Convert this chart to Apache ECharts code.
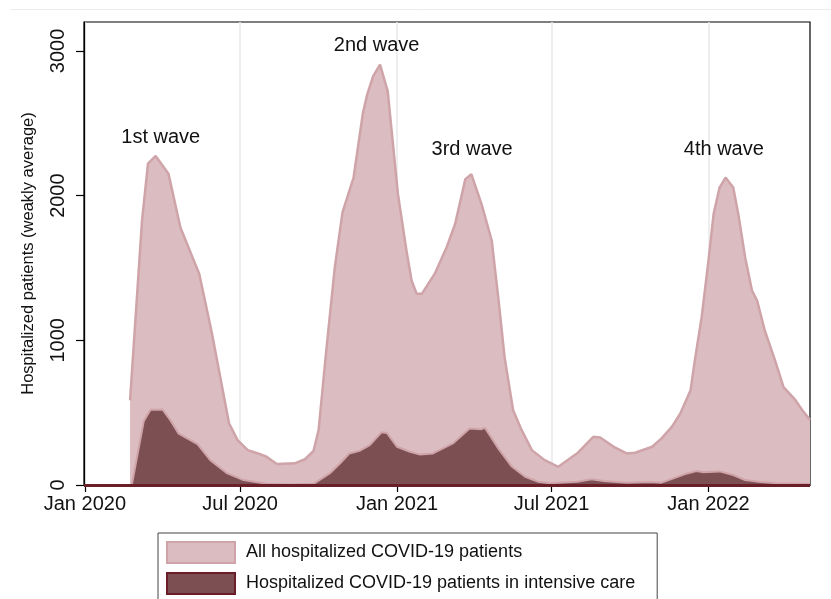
<!DOCTYPE html>
<html>
<head>
<meta charset="utf-8">
<script src="https://cdn.jsdelivr.net/npm/echarts@6/dist/echarts.min.js"></script>
<style>
  html, body { margin: 0; padding: 0; background: #fff; }
  #chart { width: 831px; height: 599px; }
</style>
</head>
<body>
<div id="chart"></div>
<script>
// ---- Data ----
const allDates = [
  '2020-02-23','2020-03-08','2020-03-15','2020-03-24','2020-04-08','2020-04-22','2020-05-14','2020-05-29',
  '2020-06-18','2020-06-28','2020-07-10','2020-07-22','2020-08-01','2020-08-13','2020-09-03','2020-09-15',
  '2020-09-25','2020-10-01','2020-10-10','2020-10-20','2020-10-29','2020-11-11','2020-11-22','2020-11-27',
  '2020-12-04','2020-12-12','2020-12-21','2021-01-02','2021-01-12','2021-01-18','2021-01-24','2021-01-30',
  '2021-02-14','2021-02-28','2021-03-10','2021-03-22','2021-03-29','2021-04-10','2021-04-22','2021-04-30',
  '2021-05-07','2021-05-17','2021-05-27','2021-06-08','2021-06-23','2021-07-09','2021-08-01','2021-08-19',
  '2021-08-27','2021-09-12','2021-09-27','2021-10-07','2021-10-27','2021-11-07','2021-11-19','2021-11-29',
  '2021-12-11','2021-12-16','2021-12-24','2022-01-01','2022-01-07','2022-01-14','2022-01-21','2022-01-30',
  '2022-02-05','2022-02-13','2022-02-21','2022-02-27','2022-03-08','2022-03-20','2022-03-30','2022-04-13',
  '2022-04-21','2022-04-30'
];
const allValues = [
  586, 1826, 2221, 2274, 2152, 1780, 1461, 1047,
  427, 310, 241, 218, 195, 145, 150, 178,
  235, 380, 930, 1505, 1884, 2125, 2573, 2700,
  2826, 2906, 2722, 2010, 1620, 1413, 1321, 1321,
  1459, 1642, 1804, 2114, 2148, 1941, 1688, 1275,
  884, 517, 379, 241, 172, 126, 223, 333,
  328, 264, 218, 223, 264, 322, 402, 494,
  655, 861, 1160, 1551, 1872, 2056, 2125, 2056,
  1872, 1573, 1344, 1275, 1068, 861, 677, 586,
  517, 450
];

const icuDates = [
  '2020-02-25','2020-03-10','2020-03-18','2020-04-01','2020-04-10','2020-04-20','2020-05-12','2020-05-27',
  '2020-06-16','2020-07-05','2020-08-01','2020-08-28','2020-09-25','2020-10-14','2020-10-26','2020-11-06',
  '2020-11-18','2020-11-30','2020-12-14','2020-12-20','2021-01-01','2021-01-16','2021-01-28','2021-02-12',
  '2021-03-08','2021-03-27','2021-04-10','2021-04-14','2021-04-20','2021-04-30','2021-05-15','2021-05-31',
  '2021-06-15','2021-06-29','2021-07-31','2021-08-17','2021-08-31','2021-09-27','2021-10-25','2021-11-07',
  '2021-11-21','2021-12-07','2021-12-18','2021-12-26','2022-01-14','2022-01-30','2022-02-13','2022-03-03',
  '2022-03-22','2022-04-30'
];
const icuValues = [
  0, 440, 520, 522, 450, 355, 282, 172,
  80, 34, 8, 3, 8, 80, 149, 218,
  236, 276, 365, 360, 264, 230, 210, 218,
  290, 391, 386, 395, 340, 250, 130, 57,
  23, 12, 23, 39, 28, 16, 21, 16,
  46, 80, 96, 88, 94, 69, 34, 20,
  12, 7
];

const tickDates  = ['2020-01-01','2020-07-01','2021-01-01','2021-07-01','2022-01-01'];
const tickLabels = ['Jan 2020','Jul 2020','Jan 2021','Jul 2021','Jan 2022'];
const yTicks = [0, 1000, 2000, 3000];

const waveLabels = ['1st wave','2nd wave','3rd wave','4th wave'];
const waveDates  = ['2020-03-30','2020-12-08','2021-03-30','2022-01-19'];
const waveValues = [2405, 3039, 2316, 2316];

const seriesNames = ['All hospitalized COVID-19 patients','Hospitalized COVID-19 patients in intensive care'];

// ---- Build chart ----
const FONT = '"Liberation Sans", Arial, Helvetica, sans-serif';
const ts = d => Date.parse(d + 'T00:00:00Z');
const tickTs = tickDates.map(ts);

const PINK_FILL = '#dbbcc0';
const PINK_LINE = '#cfa4a9';
const DARK_FILL = '#7c4f52';
const DARK_LINE = '#6a1f28';

const chart = echarts.init(document.getElementById('chart'), null, { renderer: 'canvas' });

const option = {
  animation: false,
  backgroundColor: '#fff',
  textStyle: { fontFamily: FONT },
  graphic: [{
    type: 'line', silent: true,
    shape: { x1: 10, y1: 9.5, x2: 831, y2: 9.5 },
    style: { stroke: '#ececec', lineWidth: 1 }
  }],
  grid: {
    left: 84, right: 21, top: 22, bottom: 114,
    show: true, borderColor: '#000', borderWidth: 1.2, backgroundColor: '#fff'
  },
  xAxis: {
    type: 'value',
    min: ts('2019-12-31'),
    max: ts('2022-04-30'),
    axisLine: { show: true, onZero: false, lineStyle: { color: '#000', width: 1.2 } },
    axisTick: { show: true, length: 7, lineStyle: { color: '#000', width: 1.2 }, customValues: tickTs },
    axisLabel: {
      customValues: tickTs,
      margin: 9,
      fontSize: 20,
      color: '#111',
      fontFamily: FONT,
      formatter: v => {
        const i = tickTs.indexOf(v);
        return i >= 0 ? tickLabels[i] : '';
      }
    },
    splitLine: { show: true, lineStyle: { color: '#e9e9e9', width: 1.5 } }
  },
  yAxis: {
    type: 'value',
    min: 0, max: 3200,
    name: 'Hospitalized patients (weakly average)',
    nameLocation: 'middle',
    nameGap: 47,
    nameTextStyle: { fontSize: 16.5, color: '#111', fontFamily: FONT },
    axisLine: { show: true, lineStyle: { color: '#000', width: 1.2 } },
    axisTick: { show: true, length: 8, lineStyle: { color: '#000', width: 1.2 }, customValues: yTicks },
    axisLabel: {
      customValues: yTicks,
      rotate: 90, margin: 16, fontSize: 20, color: '#111', fontFamily: FONT,
      formatter: v => String(v)
    },
    splitLine: { show: false }
  },
  legend: {
    orient: 'horizontal',
    left: 158, top: 533,
    width: 480,
    padding: [8, 22, 12, 8],
    itemGap: 8,
    itemWidth: 68, itemHeight: 21,
    borderColor: '#444', borderWidth: 1,
    backgroundColor: '#fff',
    selectedMode: false,
    textStyle: { fontSize: 18, color: '#111', fontFamily: FONT, padding: [0, 0, 0, 6] },
    data: [
      { name: seriesNames[0], icon: 'rect', itemStyle: { color: PINK_FILL, borderColor: PINK_LINE, borderWidth: 2 } },
      { name: seriesNames[1], icon: 'rect', itemStyle: { color: DARK_FILL, borderColor: DARK_LINE, borderWidth: 2 } }
    ]
  },
  series: [
    {
      name: seriesNames[0],
      type: 'line',
      z: 2,
      symbol: 'none',
      data: allDates.map((d, i) => [ts(d), allValues[i]]),
      lineStyle: { color: PINK_LINE, width: 2.5 },
      itemStyle: { color: PINK_FILL },
      areaStyle: { color: PINK_FILL, opacity: 1 },
      markPoint: {
        symbol: 'circle', symbolSize: 1,
        itemStyle: { color: 'rgba(0,0,0,0)' },
        label: { show: true, position: 'inside', formatter: '{b}', fontSize: 20, color: '#111', fontFamily: FONT },
        data: waveLabels.map((n, i) => ({ name: n, coord: [ts(waveDates[i]), waveValues[i]] }))
      }
    },
    {
      name: seriesNames[1],
      type: 'line',
      z: 3,
      symbol: 'none',
      data: icuDates.map((d, i) => [ts(d), icuValues[i]]),
      lineStyle: { color: PINK_LINE, width: 2 },
      itemStyle: { color: DARK_FILL },
      areaStyle: { color: DARK_FILL, opacity: 1 },
      markLine: {
        silent: true, symbol: 'none', label: { show: false },
        lineStyle: { color: DARK_LINE, width: 3, type: 'solid' },
        data: [{ yAxis: 0 }]
      }
    }
  ]
};
chart.setOption(option);
</script>
</body>
</html>
